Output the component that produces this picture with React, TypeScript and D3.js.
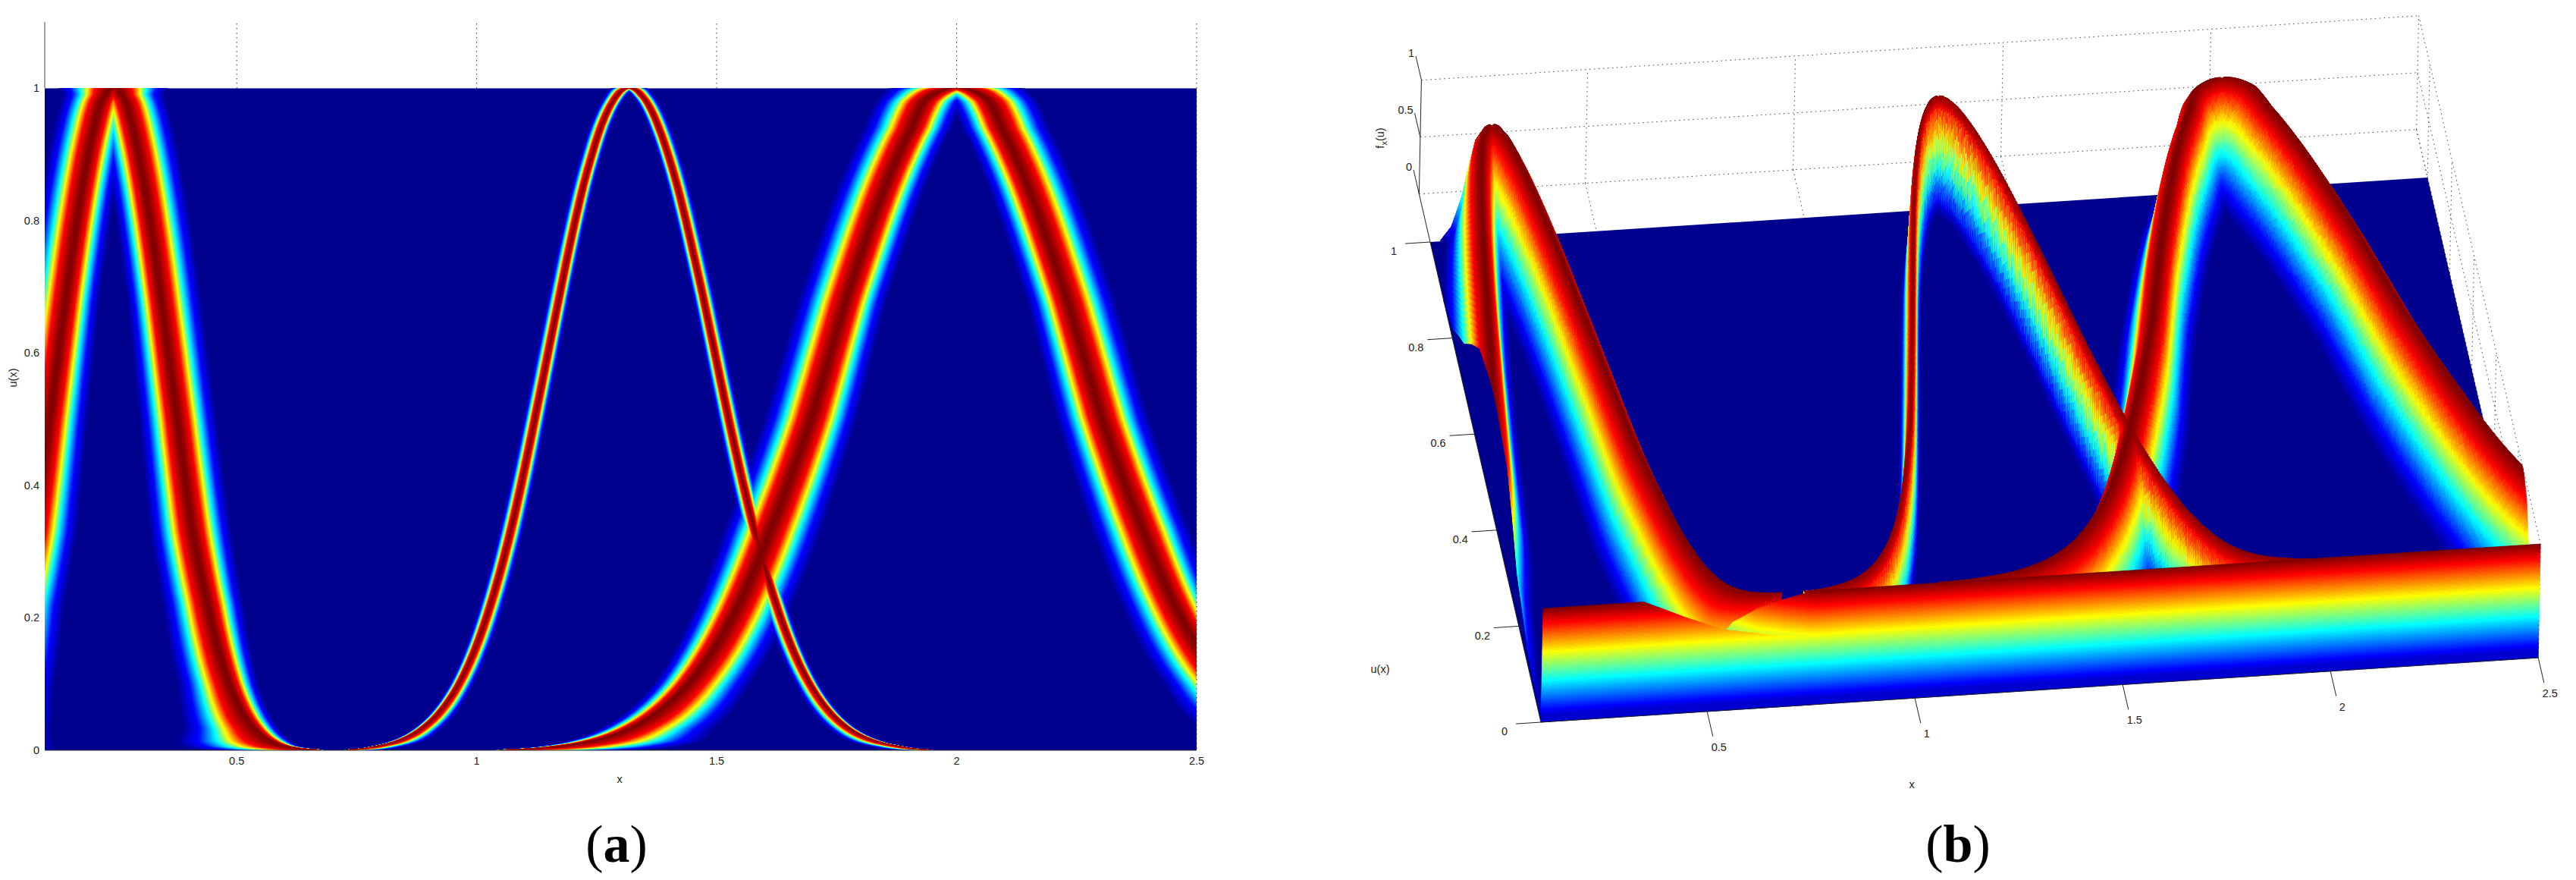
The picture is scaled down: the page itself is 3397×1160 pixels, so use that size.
import React, { useEffect, useRef } from 'react';
import * as d3 from 'd3';

const WIDTH = 3397;
const HEIGHT = 1160;

// membership level knots shared by all the ridges
const BRANCH_U = [1, 0.99, 0.98, 0.94, 0.9, 0.85, 0.75, 0.675, 0.5, 0.33, 0.22, 0.1, 0.033, 0.014, 0.006, 0.001];

// horizontal distance of each ridge from its peak
const PEAK_X = [0.243, 1.317, 2.0];
const CURVE1_RISE = [0.005, 0.016, 0.025, 0.04, 0.052, 0.0645, 0.086, 0.1, 0.133, 0.165, 0.197, 0.232, 0.278, 0.323, 0.343, 0.36];
const CURVE1_FALL = [0.005, 0.016, 0.025, 0.04, 0.052, 0.0645, 0.086, 0.1, 0.133, 0.165, 0.197, 0.243, 0.295, 0.33, 0.362, 0.43];
const CURVE2_RISE = [0.002, 0.0235, 0.033, 0.0585, 0.076, 0.095, 0.126, 0.147, 0.196, 0.247, 0.289, 0.356, 0.434, 0.485, 0.53, 0.59];
const CURVE2_FALL = [0.002, 0.025, 0.036, 0.062, 0.081, 0.101, 0.134, 0.157, 0.208, 0.263, 0.308, 0.379, 0.46, 0.516, 0.566, 0.63];
const CURVE3_BOTH = [0.004, 0.05, 0.068, 0.093, 0.12, 0.149, 0.198, 0.232, 0.303, 0.39, 0.455, 0.561, 0.683, 0.764, 0.837, 0.95];

// band half widths at the inner and outer side of a ridge
const BAND_INNER = [0.07, 0.07, 0.07, 0.07, 0.07, 0.07, 0.071, 0.071, 0.08, 0.09, 0.095, 0.11, 0.15, 0.2, 0.22, 0.24];
const BAND_OUTER = [0.115, 0.09, 0.085, 0.085, 0.085, 0.085, 0.085, 0.085, 0.083, 0.082, 0.075, 0.06, 0.05, 0.04, 0.025, 0.01];
const BAND_SCALE = [1, 0.3, 1.2];

// colour index against distance from the ridge core
const PROFILE_D = [0, 0.08, 0.28, 0.43, 0.56, 0.76, 1];
const PROFILE_T = [1, 0.985, 0.875, 0.625, 0.375, 0.125, 0];

// front wall of panel (b)
const WALL1_X = [0.1, 0.339, 0.385, 0.441, 0.534, 0.664, 0.75];
const WALL1_TOP = [1, 1, 0.93, 0.84, 0.71, 0.63, 0.6];
const WALL2_X = [0.5, 0.534, 0.556, 0.613, 0.682, 0.75, 2.5];
const WALL2_TOP = [0.6, 0.68, 0.77, 0.87, 0.947, 1, 1];
const WALL2_SHIFT = [0.26, 0.25, 0.17, 0.09, 0.04, 0, 0];

const X_TICKS = [0.5, 1, 1.5, 2, 2.5];
const U_TICKS = [0, 0.2, 0.4, 0.6, 0.8, 1];
const F_TICKS = [0, 0.5, 1];

const LEVELS = 63;
const DX = 0.0025;
const FONT = '"Liberation Sans", Arial, sans-serif';

const jet = d3.scaleLinear<string>()
  .domain([0, 7 / 63, 23 / 63, 39 / 63, 55 / 63, 1])
  .range(['#00008f', '#0000ff', '#00ffff', '#ffff00', '#ff0000', '#800000'])
  .clamp(true);

const toS = (u: number) => Math.sqrt(-Math.log(Math.max(u, 1e-4)));
const sKnots = BRANCH_U.map(toS);
const knotScale = (values: number[]) => d3.scaleLinear().domain(sKnots).range(values).clamp(true);

const innerAt = knotScale(BAND_INNER);
const outerAt = knotScale(BAND_OUTER);

const BRANCHES = [
  { curve: 2, sign: -1, offs: knotScale(CURVE3_BOTH) },
  { curve: 2, sign: 1, offs: knotScale(CURVE3_BOTH) },
  { curve: 0, sign: -1, offs: knotScale(CURVE1_RISE) },
  { curve: 0, sign: 1, offs: knotScale(CURVE1_FALL) },
  { curve: 1, sign: -1, offs: knotScale(CURVE2_RISE) },
  { curve: 1, sign: 1, offs: knotScale(CURVE2_FALL) },
];

const bandAt = (b: (typeof BRANCHES)[number], u: number) => {
  const s = toS(u);
  const k = BAND_SCALE[b.curve];
  const inner = innerAt(s) * k;
  const outer = outerAt(s) * k;
  return {
    xc: PEAK_X[b.curve] + b.sign * b.offs(s),
    left: b.sign < 0 ? outer : inner,
    right: b.sign < 0 ? inner : outer,
  };
};

const profileT = d3.scaleLinear().domain(PROFILE_D).range(PROFILE_T).clamp(true);
const distForT = d3.scaleLinear().domain([...PROFILE_T].reverse()).range([...PROFILE_D].reverse()).clamp(true);
const T_TABLE = d3.range(0, 1001).map(i => profileT(i / 1000));

const label = (g: any, x: number, y: number, txt: string, anchor = 'middle') =>
  g.append('text')
    .attr('x', x).attr('y', y)
    .attr('text-anchor', anchor)
    .attr('dominant-baseline', 'central')
    .style('font-family', FONT)
    .style('font-size', '14.5px')
    .style('fill', '#222')
    .text(txt);

const caption = (svg: any, cx: number, letter: string) => {
  const t = svg.append('text')
    .attr('x', cx).attr('y', 1136)
    .attr('text-anchor', 'middle')
    .style('font-family', '"Liberation Serif", serif')
    .style('font-size', '70px')
    .style('fill', '#000');
  t.append('tspan').text('(');
  t.append('tspan').style('font-weight', 700).text(letter);
  t.append('tspan').text(')');
};

function drawPanelA(svg: any) {
  const x = d3.scaleLinear().domain([0.1, 2.5]).range([59, 1578]);
  const y = d3.scaleLinear().domain([0, 1.1]).range([989, 29]);

  svg.append('clipPath').attr('id', 'map-clip')
    .append('rect')
    .attr('x', x(0.1)).attr('y', y(1))
    .attr('width', x(2.5) - x(0.1)).attr('height', y(0) - y(1));

  const g = svg.append('g').attr('clip-path', 'url(#map-clip)');
  g.append('rect')
    .attr('x', x(0.1)).attr('y', y(1))
    .attr('width', x(2.5) - x(0.1)).attr('height', y(0) - y(1))
    .attr('fill', jet(0));

  const sSamples = d3.range(0, 2.72, 0.008);
  const uSamples = [...sSamples.map(s => Math.exp(-s * s)), 0];

  // stacked bands, low colours first, so overlaps keep the higher value
  d3.range(1, LEVELS + 1).forEach(i => {
    const d = distForT((i - 0.5) / LEVELS);
    BRANCHES.forEach(b => {
      const area = d3.area<number>()
        .y(u => y(u))
        .x0(u => { const p = bandAt(b, u); return x(p.xc - p.left * d); })
        .x1(u => { const p = bandAt(b, u); return x(p.xc + p.right * d); });
      g.append('path').attr('d', area(uSamples)).attr('fill', jet(i / LEVELS));
    });
  });

  X_TICKS.forEach(v => {
    svg.append('line')
      .attr('x1', x(v)).attr('x2', x(v))
      .attr('y1', y(1.1) + 2).attr('y2', v === 2.5 ? y(0) : y(1))
      .attr('stroke', '#333').attr('stroke-dasharray', '1.5 4.5');
    label(svg, x(v), 1003, String(v));
  });
  U_TICKS.forEach(v => label(svg, 52, y(v), String(v), 'end'));

  svg.append('line').attr('x1', x(0.1)).attr('x2', x(0.1)).attr('y1', y(1.1)).attr('y2', y(1)).attr('stroke', '#444');
  svg.append('line').attr('x1', x(0.1)).attr('x2', x(2.5)).attr('y1', y(0)).attr('y2', y(0)).attr('stroke', '#333');

  label(svg, 817, 1027, 'x');
  label(svg, 0, 0, 'u(x)').attr('transform', 'translate(17,498) rotate(-90)');
  caption(svg, 813, 'a');
}

// fixed view of panel (b): orthographic
const project = (x: number, u: number, f: number): [number, number] => [
  2032 + (x - 0.1) * 548 - 146 * u + 3 * f,
  952 - (x - 0.1) * 35.4 - 633 * u - 150 * f,
];
const r1 = (v: number) => Math.round(v * 10) / 10;

function quad(p: any, a: number[], b: number[], c: number[], d: number[]) {
  p.moveTo(r1(a[0]), r1(a[1]));
  p.lineTo(r1(b[0]), r1(b[1]));
  p.lineTo(r1(c[0]), r1(c[1]));
  p.lineTo(r1(d[0]), r1(d[1]));
  p.closePath();
}

function drawPanelB(svg: any) {
  const gridG = svg.append('g')
    .attr('fill', 'none').attr('stroke', '#444').attr('stroke-dasharray', '1.5 4.5');
  const seg = (g: any, a: [number, number], b: [number, number]) =>
    g.append('line').attr('x1', a[0]).attr('y1', a[1]).attr('x2', b[0]).attr('y2', b[1]);

  X_TICKS.forEach(v => {
    seg(gridG, project(v, 1.1, 0), project(v, 1.1, 1));
    seg(gridG, project(v, 1.1, 0), project(v, 0, 0));
  });
  F_TICKS.forEach(v => {
    seg(gridG, project(0.1, 1.1, v), project(2.5, 1.1, v));
    seg(gridG, project(2.5, 1.1, v), project(2.5, 0, v));
  });
  U_TICKS.forEach(v => seg(gridG, project(2.5, v, 0), project(2.5, v, 1)));

  const surf = svg.append('g').attr('stroke-width', 0.7).attr('stroke-linejoin', 'round');

  // floor
  const floor = d3.path();
  quad(floor, project(0.1, 1, 0), project(2.5, 1, 0), project(2.5, 0, 0), project(0.1, 0, 0));
  surf.append('path').attr('d', floor.toString()).attr('fill', jet(0));

  // surface rows, back to front
  const xs = d3.range(0.1, 2.5001, DX);
  const nx = xs.length;
  const rowsU = [...d3.range(0, 2.72, 0.004).map(s => Math.exp(-s * s)), 0];

  const rowT = (u: number) => {
    const t = new Float32Array(nx);
    BRANCHES.forEach(b => {
      const p = bandAt(b, u);
      const i0 = Math.max(0, Math.floor((p.xc - p.left - 0.1) / DX));
      const i1 = Math.min(nx - 1, Math.ceil((p.xc + p.right - 0.1) / DX));
      for (let i = i0; i <= i1; i++) {
        const dx = xs[i] - p.xc;
        const d = Math.abs(dx) / (dx < 0 ? p.left : p.right);
        if (d >= 1) continue;
        const v = T_TABLE[Math.round(d * 1000)];
        if (v > t[i]) t[i] = v;
      }
    });
    return t;
  };

  let prev = rowT(rowsU[0]);
  for (let j = 0; j < rowsU.length - 1; j++) {
    const next = rowT(rowsU[j + 1]);
    const paths = new Map<number, any>();
    const u0 = rowsU[j];
    const u1 = rowsU[j + 1];
    for (let i = 0; i < nx - 1; i++) {
      const avg = (prev[i] + prev[i + 1] + next[i] + next[i + 1]) / 4;
      const level = Math.round(avg * LEVELS);
      if (level < 1) continue;
      if (!paths.has(level)) paths.set(level, d3.path());
      // surface height is the colour index itself
      quad(
        paths.get(level),
        project(xs[i], u0, prev[i]),
        project(xs[i + 1], u0, prev[i + 1]),
        project(xs[i + 1], u1, next[i + 1]),
        project(xs[i], u1, next[i]),
      );
    }
    paths.forEach((p, level) => {
      const c = jet(level / LEVELS);
      surf.append('path').attr('d', p.toString()).attr('fill', c).attr('stroke', c);
    });
    prev = next;
  }

  // front wall
  const drawWall = (xa: number[], top: number[], shift: number[] | null) => {
    const topAt = d3.scaleLinear().domain(xa).range(top).clamp(true);
    const shiftAt = shift ? d3.scaleLinear().domain(xa).range(shift).clamp(true) : () => 0;
    const first = 4;
    d3.range(first, LEVELS + 1).forEach(i => {
      const p = d3.path();
      const tLow = (i - 0.5) / LEVELS;
      const tHigh = (i + 0.5) / LEVELS;
      d3.range(xa[0], xa[xa.length - 1], 0.004).forEach(xv => {
        const x2 = Math.min(xv + 0.004, 2.5);
        const sh = shiftAt(xv);
        const lo = i === first ? 0 : tLow + sh;
        const hi = i === LEVELS ? 2 : tHigh + sh;
        const tp = topAt(xv);
        const a = Math.min(lo, tp);
        const b = Math.min(hi, tp);
        if (b <= a) return;
        quad(p, project(xv, 0, a), project(x2, 0, a), project(x2, 0, b), project(xv, 0, b));
      });
      const c = jet(i / LEVELS);
      surf.append('path').attr('d', p.toString()).attr('fill', c).attr('stroke', c);
    });
  };
  drawWall(WALL2_X, WALL2_TOP, WALL2_SHIFT);
  drawWall(WALL1_X, WALL1_TOP, null);

  // axes
  const axisG = svg.append('g').attr('stroke', '#222').attr('fill', 'none');
  seg(axisG, project(0.1, 0, 0), project(2.5, 0, 0));
  seg(axisG, project(0.1, 0, 0), project(0.1, 1.1, 0));
  seg(axisG, project(0.1, 1.1, 0), project(0.1, 1.1, 1));

  X_TICKS.forEach(v => {
    seg(axisG, project(v, 0, 0), project(v, -0.052, 0));
    const [px, py] = project(v, -0.052, 0);
    label(svg, px + 8, py + 14, String(v));
  });
  U_TICKS.forEach(v => {
    seg(axisG, project(0.1, v, 0), project(0.04, v, 0));
    const [px, py] = project(0.04, v, 0);
    label(svg, px - 15, py + 10, String(v));
  });
  F_TICKS.forEach(v => {
    seg(axisG, project(0.1, 1.1, v), project(0.1, 1.15, v));
    const [px, py] = project(0.1, 1.15, v);
    label(svg, px - (v === 0.5 ? 12 : 6), py - 4, String(v));
  });

  label(svg, 2521, 1034, 'x');
  label(svg, 1820, 882, 'u(x)');
  const fz = label(svg, 0, 0, 'f').attr('transform', 'translate(1820,182) rotate(-90)');
  fz.append('tspan').attr('dy', 5).style('font-size', '11px').text('x');
  fz.append('tspan').attr('dy', -5).text('(u)');
  caption(svg, 2582, 'b');
}

const App = () => {
  const ref = useRef<SVGSVGElement>(null);

  useEffect(() => {
    const svg = d3.select(ref.current);
    svg.selectAll('*').remove();
    drawPanelA(svg);
    drawPanelB(svg);
  }, []);

  return (
    <svg
      ref={ref}
      width={WIDTH}
      height={HEIGHT}
      style={{ position: 'absolute', left: 0, top: 0, background: '#fff' }}
    />
  );
};

export default App;
